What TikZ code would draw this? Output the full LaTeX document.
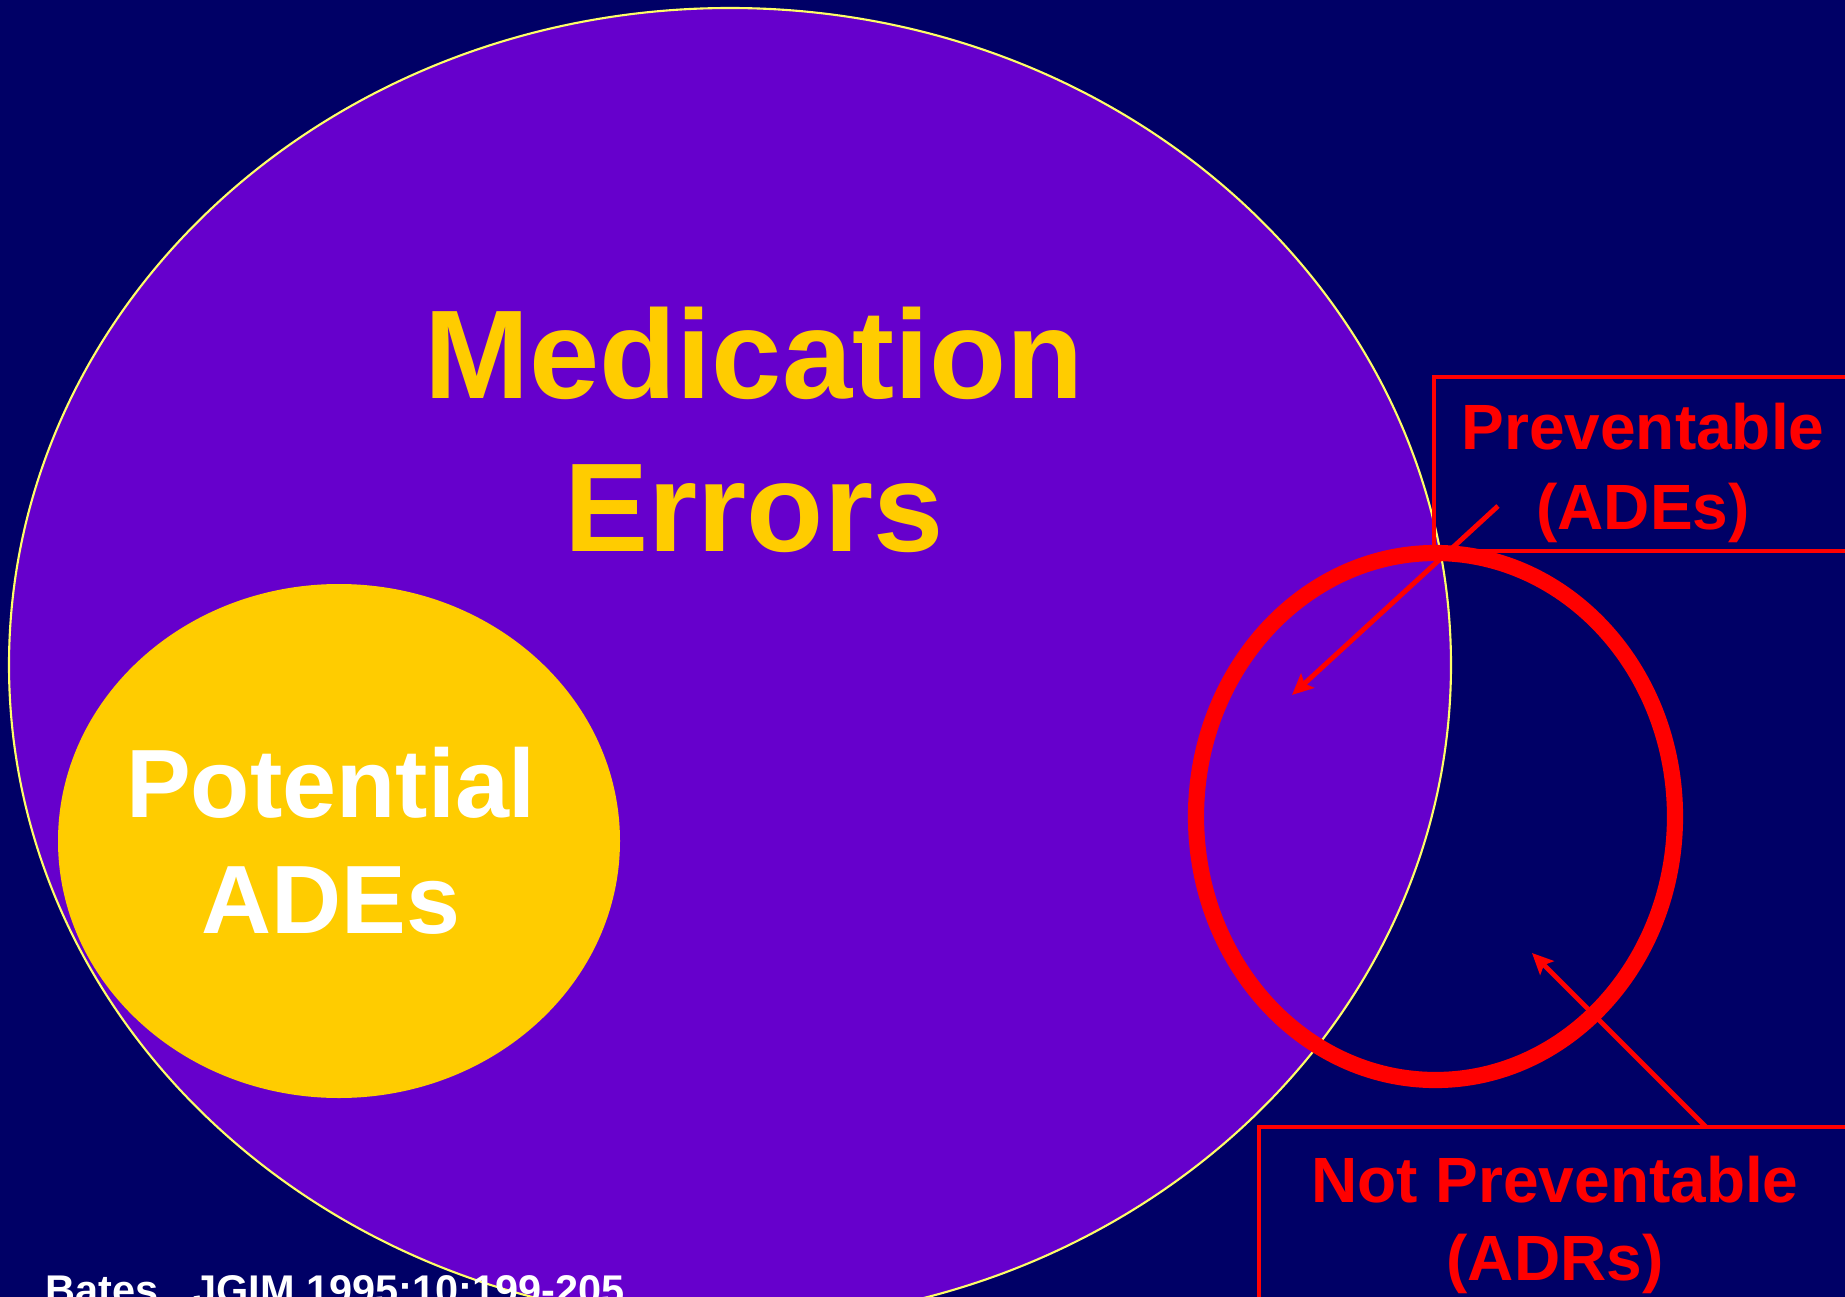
\documentclass[tikz,border=0pt]{standalone}
\usepackage{fontspec}
\setmainfont{Liberation Sans}
\usetikzlibrary{arrows.meta}
\definecolor{navybg}{HTML}{000066}
\definecolor{errpurple}{HTML}{6600CC}
\definecolor{adegold}{HTML}{FFCC00}
\definecolor{rimyellow}{HTML}{FFFF66}
\definecolor{adred}{HTML}{FF0000}
\tikzset{
  errtext/.style={text=adegold, anchor=base, inner sep=0pt,
    font=\fontsize{35.9pt}{40pt}\selectfont\bfseries},
  potext/.style={text=white, anchor=base, inner sep=0pt,
    font=\fontsize{27.6pt}{32pt}\selectfont\bfseries},
  redtext/.style={text=adred, anchor=base, inner sep=0pt,
    font=\fontsize{18.2pt}{22pt}\selectfont\bfseries},
  redbox/.style={draw=adred, line width=0.9pt},
  pointer/.style={adred, line width=1.4pt, -{Stealth[length=6pt,width=5.5pt,inset=1.2pt]}}
}
\begin{document}
\begin{tikzpicture}[x=0.01cm,y=-0.01cm]
  % frame (pixel units, y downwards)
  \useasboundingbox (0,0) rectangle (1845,1297);
  \clip (0,0) rectangle (1845,1297);
  \fill[navybg] (0,0) rectangle (1845,1297);
  % medication errors (outer ellipse)
  \filldraw[fill=errpurple, draw=rimyellow, line width=0.6pt]
    (730,665) ellipse [x radius=721, y radius=657];
  % potential ADEs
  \fill[adegold] (339,841) ellipse [x radius=281, y radius=257];
  % labels on the ellipses
  \node[errtext] (med) at (754,398) {Medication};
  \node[errtext] (err) at (754,551) {Errors};
  \node[potext] (pot) at (331,817) {Potential};
  \node[potext] (pades) at (331,933) {ADEs};
  % boxes on the right
  \draw[redbox] (1434,377) rectangle (1900,551);
  \draw[redbox] (1259,1127) rectangle (1900,1360);
  % ADEs ring
  \draw[adred, line width=4.6pt] (1435.5,816.5) ellipse [x radius=239.5, y radius=263.5];
  % box labels
  \node[redtext] (prev) at (1643,449) {Preventable};
  \node[redtext] (prevades) at (1643,529) {(ADEs)};
  \node[redtext] (notprev) at (1555,1202) {Not Preventable};
  \node[redtext] (adrs) at (1555,1280) {(ADRs)};
  % pointers
  \coordinate (p1) at (1498,506);
  \coordinate (t1) at (1292,695);
  \coordinate (p2) at (1706,1127);
  \coordinate (t2) at (1532,953);
  \draw[pointer] (p1) -- (t1);
  \draw[pointer] (p2) -- (t2);
  % source
  \node[text=white, anchor=base west, inner sep=0pt,
    font=\fontsize{11.8pt}{14pt}\selectfont\bfseries] (src) at (45,1304) {Bates , JGIM 1995;10:199-205};
\end{tikzpicture}
\end{document}
